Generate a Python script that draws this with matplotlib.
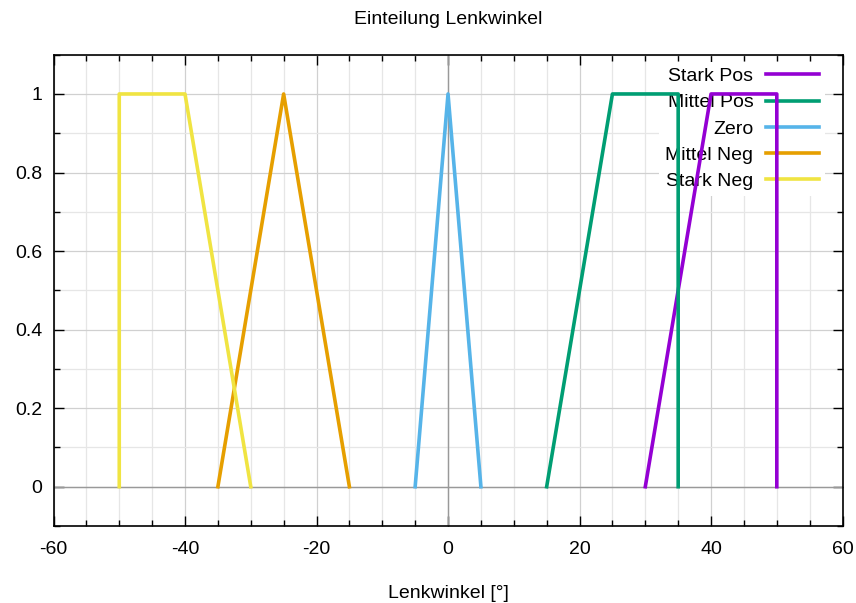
import matplotlib
matplotlib.use('Agg')
import matplotlib.pyplot as plt
from matplotlib.ticker import MultipleLocator

plt.rcParams['font.family'] = ['Liberation Sans', 'DejaVu Sans']
plt.rcParams['axes.unicode_minus'] = False

# Zugehoerigkeitsfunktionen (Lenkwinkel in Grad)
stark_pos_x = [30, 40, 50, 50]
stark_pos_y = [0, 1, 1, 0]
mittel_pos_x = [15, 25, 35, 35]
mittel_pos_y = [0, 1, 1, 0]
zero_x = [-5, 0, 5]
zero_y = [0, 1, 0]
mittel_neg_x = [-35, -25, -15]
mittel_neg_y = [0, 1, 0]
stark_neg_x = [-50, -50, -40, -30]
stark_neg_y = [0, 1, 1, 0]

fig = plt.figure(figsize=(8.56, 6.03), dpi=100)
ax = fig.add_axes([0.0625, 0.1277, 0.9218, 0.7816])

lw = 2.6
ax.plot(stark_pos_x, stark_pos_y, color='#9400d3', lw=lw, label='Stark Pos', zorder=3)
ax.plot(mittel_pos_x, mittel_pos_y, color='#009e73', lw=lw, label='Mittel Pos', zorder=3)
ax.plot(zero_x, zero_y, color='#56b4e9', lw=lw, label='Zero', zorder=3)
ax.plot(mittel_neg_x, mittel_neg_y, color='#e69f00', lw=lw, label='Mittel Neg', zorder=3)
ax.plot(stark_neg_x, stark_neg_y, color='#f0e442', lw=lw, label='Stark Neg', zorder=3)

ax.set_xlim(-60, 60)
ax.set_ylim(-0.1, 1.1)
ax.xaxis.set_major_locator(MultipleLocator(20))
ax.xaxis.set_minor_locator(MultipleLocator(5))
ax.yaxis.set_minor_locator(MultipleLocator(0.1))
ax.set_yticks([0, 0.2, 0.4, 0.6, 0.8, 1.0])
ax.set_yticklabels(['0', '0.2', '0.4', '0.6', '0.8', '1'])

ax.grid(True, which='major', color='#d0d0d0', lw=0.9, zorder=0)
ax.grid(True, which='minor', color='#e6e6e6', lw=0.9, zorder=0)
ax.axhline(0, color='#999999', lw=1.0, zorder=1)
ax.axvline(0, color='#999999', lw=1.0, zorder=1)
ax.set_axisbelow(True)

ax.tick_params(which='both', direction='in', top=True, right=True, labelsize=14, color='black')
ax.tick_params(which='major', length=7, width=1)
ax.tick_params(which='minor', length=4, width=1)
ax.tick_params(axis='x', which='major', pad=11)
ax.tick_params(axis='y', which='major', pad=8)
for s in ax.spines.values():
    s.set_linewidth(1.2)

ax.set_title('Einteilung Lenkwinkel', fontsize=14, pad=22)
ax.set_xlabel('Lenkwinkel [°]', fontsize=14, labelpad=19)

leg = ax.legend(loc='upper right', bbox_to_anchor=(0.978, 0.985), fontsize=14,
                markerfirst=False, frameon=True, fancybox=False,
                handlelength=2.75, handletextpad=0.65, labelspacing=0.44,
                borderpad=0.3, borderaxespad=0)
leg.get_frame().set_edgecolor('none')
leg.get_frame().set_facecolor('white')
leg.get_frame().set_alpha(1)
leg.set_zorder(2)

fig.savefig('out.png', dpi=100)
